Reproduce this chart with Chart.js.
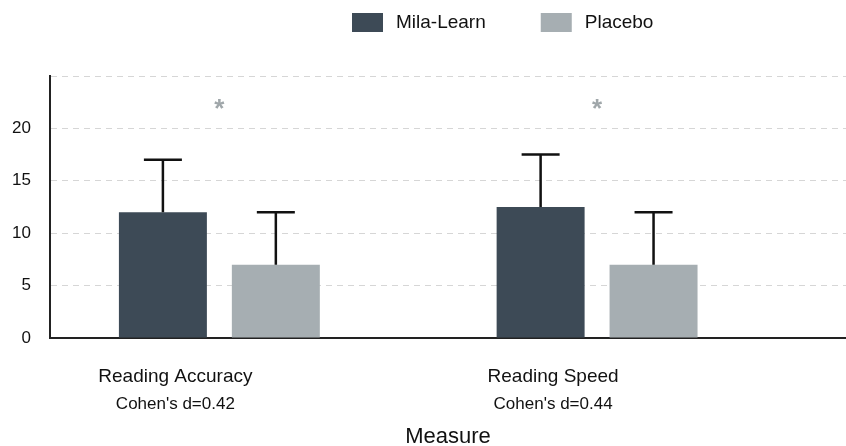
<!DOCTYPE html>
<html><head><meta charset="utf-8">
<script src="https://cdn.jsdelivr.net/npm/chart.js@4.4.1/dist/chart.umd.min.js"></script>
<style>html,body{margin:0;padding:0;background:#fff}#wrap{width:846px;height:446px}</style>
</head><body><div id="wrap"><canvas id="c" width="846" height="446"></canvas></div>
<script>
const categories = ['Reading Accuracy', 'Reading Speed'];
const effectSizes = ["Cohen's d=0.42", "Cohen's d=0.44"];
const seriesNames = ['Mila-Learn', 'Placebo'];
const milaLearn = [12, 12.5];
const placebo = [7, 7];
const milaLearnErr = [5, 5];
const placeboErr = [5, 5];
const significance = ['*', '*'];
const significanceY = [21.8, 21.8];
const yTicks = [0, 5, 10, 15, 20, 25];
const yTickLabels = ['0', '5', '10', '15', '20', ''];

const FONT = '"Liberation Sans", Arial, Helvetica, sans-serif';
const DARK = '#3d4a56';
const LIGHT = '#a6aeb2';
const STAR = '#a0a7aa';
const LABEL_OFFSET = -44;

const errorBars = {
  id: 'errorBars',
  afterDatasetsDraw(chart) {
    const ctx = chart.ctx;
    const y = chart.scales.y;
    chart.data.datasets.forEach((ds, di) => {
      const meta = chart.getDatasetMeta(di);
      meta.data.forEach((bar, i) => {
        const v = ds.data[i].y;
        const top = y.getPixelForValue(v + ds.errors[i]);
        ctx.save();
        ctx.strokeStyle = '#111';
        ctx.lineWidth = 2.5;
        ctx.beginPath();
        ctx.moveTo(bar.x, bar.y);
        ctx.lineTo(bar.x, top);
        ctx.moveTo(bar.x - 19, top);
        ctx.lineTo(bar.x + 19, top);
        ctx.stroke();
        ctx.restore();
      });
    });
  }
};

const extras = {
  id: 'extras',
  afterDraw(chart) {
    const ctx = chart.ctx;
    const x = chart.scales.x, y = chart.scales.y;
    ctx.save();
    ctx.fillStyle = STAR;
    ctx.font = 'bold 26px ' + FONT;
    ctx.textAlign = 'center';
    ctx.textBaseline = 'middle';
    categories.forEach((c, i) => {
      ctx.fillText(significance[i], x.getPixelForValue(i), y.getPixelForValue(significanceY[i]));
    });
    ctx.fillStyle = '#111';
    ctx.font = '17px ' + FONT;
    categories.forEach((c, i) => {
      ctx.fillText(effectSizes[i], x.getPixelForValue(i) + LABEL_OFFSET, x.top + 66);
    });
    ctx.font = '19px ' + FONT;
    ctx.textAlign = 'left';
    let lx = 352;
    chart.data.datasets.forEach(ds => {
      ctx.fillStyle = ds.backgroundColor;
      ctx.fillRect(lx, 13, 31, 19);
      ctx.fillStyle = '#111';
      ctx.fillText(ds.label, lx + 44, 23);
      lx += 44 + ctx.measureText(ds.label).width + 55;
    });
    ctx.restore();
  }
};

new Chart(document.getElementById('c'), {
  type: 'bar',
  plugins: [errorBars, extras],
  data: {
    datasets: [
      { label: seriesNames[0], data: milaLearn.map((v, i) => ({ x: i, y: v })), errors: milaLearnErr, backgroundColor: DARK },
      { label: seriesNames[1], data: placebo.map((v, i) => ({ x: i, y: v })), errors: placeboErr, backgroundColor: LIGHT }
    ]
  },
  options: {
    responsive: false,
    animation: false,
    events: [],
    layout: { padding: { top: 76, left: 0, right: 0, bottom: 0 } },
    categoryPercentage: 0.598,
    barPercentage: 0.779,
    plugins: { legend: { display: false }, tooltip: { enabled: false } },
    scales: {
      x: {
        type: 'linear',
        offset: false,
        min: -0.4484,
        max: 1.659,
        bounds: 'data',
        afterBuildTicks(scale) { scale.ticks = categories.map((c, i) => ({ value: i })); },
        afterFit(scale) { scale.height = 108; },
        grid: { display: false, drawTicks: false, offset: false },
        border: { display: true, color: '#222', width: 2 },
        ticks: {
          callback: (v, i) => categories[i],
          labelOffset: LABEL_OFFSET,
          padding: 27,
          maxRotation: 0,
          autoSkip: false,
          color: '#111',
          font: { family: FONT, size: 19 }
        },
        title: {
          display: true,
          text: 'Measure',
          color: '#111',
          font: { family: FONT, size: 22, lineHeight: 1.0 },
          padding: { top: 0, bottom: -2 }
        }
      },
      y: {
        min: 0,
        max: 25,
        afterBuildTicks(scale) { scale.ticks = yTicks.map(v => ({ value: v })); },
        afterFit(scale) { scale.width = 50; },
        grid: {
          drawTicks: false,
          color: ctx => (ctx.tick && ctx.tick.value === 0) ? 'rgba(0,0,0,0)' : '#d6d6d6',
          lineWidth: 1
        },
        border: { display: true, color: '#222', width: 2, dash: [6, 5] },
        ticks: {
          callback: (v, i) => yTickLabels[i],
          padding: 19,
          color: '#111',
          font: { family: FONT, size: 17 }
        }
      }
    }
  }
});
</script>
</body></html>
